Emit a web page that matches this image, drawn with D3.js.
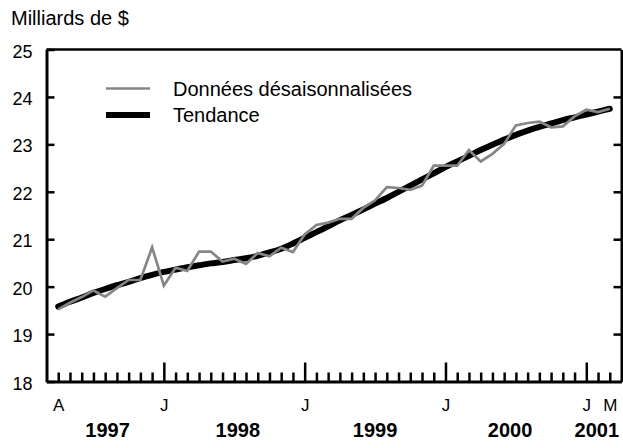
<!DOCTYPE html>
<html lang="fr">

<head>
    <meta charset="UTF-8">
    <title>Milliards de $</title>
    <style>
        body { margin: 0; background: #fff; }
        text { font-family: "Liberation Sans", Arial, sans-serif; }
    </style>
</head>

<body>

    <div id="my_dataviz"></div>

    <script src="https://d3js.org/d3.v7.min.js"></script>

    <script type="text/javascript">

        // mois: avril 1997 (0) -> mars 2001 (47)
        var months = d3.range(48);

        // donnees desaisonnalisees (milliards de $)
        var seasonal = [
            19.52, 19.66, 19.78, 19.92, 19.79, 19.97, 20.14, 20.14, 20.83, 20.02, 20.40, 20.33,
            20.74, 20.74, 20.53, 20.59, 20.48, 20.71, 20.64, 20.82, 20.73, 21.10, 21.30, 21.35,
            21.43, 21.43, 21.66, 21.82, 22.10, 22.08, 22.04, 22.13, 22.55, 22.55, 22.55, 22.88,
            22.64, 22.80, 23.01, 23.40, 23.45, 23.48, 23.36, 23.38, 23.59, 23.73, 23.68, 23.75
        ];

        // tendance
        var trend = [
            19.58, 19.68, 19.77, 19.87, 19.95, 20.03, 20.10, 20.18, 20.25, 20.31, 20.36, 20.41,
            20.45, 20.49, 20.52, 20.56, 20.60, 20.65, 20.72, 20.80, 20.91, 21.03, 21.15, 21.27,
            21.40, 21.51, 21.63, 21.75, 21.87, 22.00, 22.13, 22.26, 22.39, 22.52, 22.64, 22.76,
            22.88, 22.99, 23.10, 23.20, 23.29, 23.37, 23.44, 23.51, 23.57, 23.63, 23.69, 23.75
        ];

        // libelles des mois (index du mois -> lettre)
        var monthLabels = [[0, "A"], [9, "J"], [21, "J"], [33, "J"], [45, "J"], [47, "M"]];
        // mois de janvier: graduations longues
        var januaries = [9, 21, 33, 45];
        // annees et mois sous lequel le libelle est centre
        var yearLabels = [["1997", 4.2], ["1998", 15.3], ["1999", 27], ["2000", 38.5], ["2001", 45.9]];

        var yTicks = [18, 19, 20, 21, 22, 23, 24, 25];
        var legendItems = ["Données désaisonnalisées", "Tendance"];

        var W = 623, H = 448;
        var plot = { left: 46.5, right: 621.5, top: 49.5, bottom: 381.5 };

        var svg = d3.select("#my_dataviz")
            .append("svg")
            .attr("width", W)
            .attr("height", H);

        var x = d3.scaleLinear()
            .domain([-1, 48])
            .range([plot.left, plot.right]);

        var y = d3.scaleLinear()
            .domain([18, 25])
            .range([plot.bottom, plot.top]);

        // titre de l'axe
        svg.append("text")
            .attr("x", 11)
            .attr("y", 25)
            .style("font-size", "20px")
            .text("Milliards de $");

        // axe gauche, graduations vers l'interieur
        var gLeft = svg.append("g")
            .attr("transform", "translate(" + plot.left + ",0)")
            .call(d3.axisLeft(y)
                .tickValues(yTicks)
                .tickFormat(d3.format("d"))
                .tickSizeInner(-8)
                .tickSizeOuter(0)
                .tickPadding(14));
        gLeft.selectAll("text")
            .style("font-size", "18px")
            .attr("dy", "0.42em");

        // axe droit, sans libelles
        svg.append("g")
            .attr("transform", "translate(" + plot.right + ",0)")
            .call(d3.axisRight(y)
                .tickValues(yTicks.slice(1, -1))
                .tickFormat("")
                .tickSizeInner(-8)
                .tickSizeOuter(0));

        // axe du bas: une graduation par mois
        var labelMap = new Map(monthLabels);
        var gBottom = svg.append("g")
            .attr("transform", "translate(0," + plot.bottom + ")")
            .call(d3.axisBottom(x)
                .tickValues(months)
                .tickFormat(function (d) { return labelMap.get(d) || ""; })
                .tickSizeInner(-9)
                .tickSizeOuter(0)
                .tickPadding(17));
        gBottom.selectAll(".tick line")
            .attr("y2", function (d) { return januaries.indexOf(d) >= 0 ? -19 : -9; });
        gBottom.selectAll("text")
            .style("font-size", "17px")
            .attr("dy", "0.71em");

        // ligne du haut
        svg.append("line")
            .attr("x1", plot.left)
            .attr("x2", plot.right)
            .attr("y1", plot.top)
            .attr("y2", plot.top)
            .attr("stroke", "black")
            .attr("stroke-width", 2.5);

        svg.selectAll(".domain, .tick line")
            .attr("stroke", "black")
            .attr("stroke-width", 2.5);
        svg.selectAll(".domain").attr("stroke-width", 3);
        svg.selectAll(".tick text").attr("fill", "black");

        // annees
        svg.append("g")
            .selectAll("text")
            .data(yearLabels)
            .join("text")
            .attr("x", function (d) { return x(d[1]); })
            .attr("y", 437)
            .attr("text-anchor", "middle")
            .style("font-size", "20px")
            .style("font-weight", "bold")
            .text(function (d) { return d[0]; });

        // tendance
        svg.append("path")
            .datum(trend)
            .attr("fill", "none")
            .attr("stroke", "black")
            .attr("stroke-width", 6)
            .attr("stroke-linecap", "round")
            .attr("stroke-linejoin", "round")
            .attr("d", d3.line()
                .curve(d3.curveMonotoneX)
                .x(function (d, i) { return x(months[i]); })
                .y(function (d) { return y(d); }));

        // donnees desaisonnalisees
        svg.append("path")
            .datum(seasonal)
            .attr("fill", "none")
            .attr("stroke", "#868686")
            .attr("stroke-width", 2.7)
            .attr("d", d3.line()
                .x(function (d, i) { return x(months[i]); })
                .y(function (d) { return y(d); }));

        // legende
        var legend = svg.append("g");
        legendItems.forEach(function (name, i) {
            legend.append("line")
                .attr("x1", 106)
                .attr("x2", 150)
                .attr("y1", 88.5 + i * 26.5)
                .attr("y2", 88.5 + i * 26.5)
                .attr("stroke", i == 0 ? "#868686" : "black")
                .attr("stroke-width", i == 0 ? 2.7 : 6);
            legend.append("text")
                .attr("x", 173)
                .attr("y", 95.5 + i * 26.5)
                .style("font-size", "20px")
                .text(name);
        });

    </script>

</body>

</html>
